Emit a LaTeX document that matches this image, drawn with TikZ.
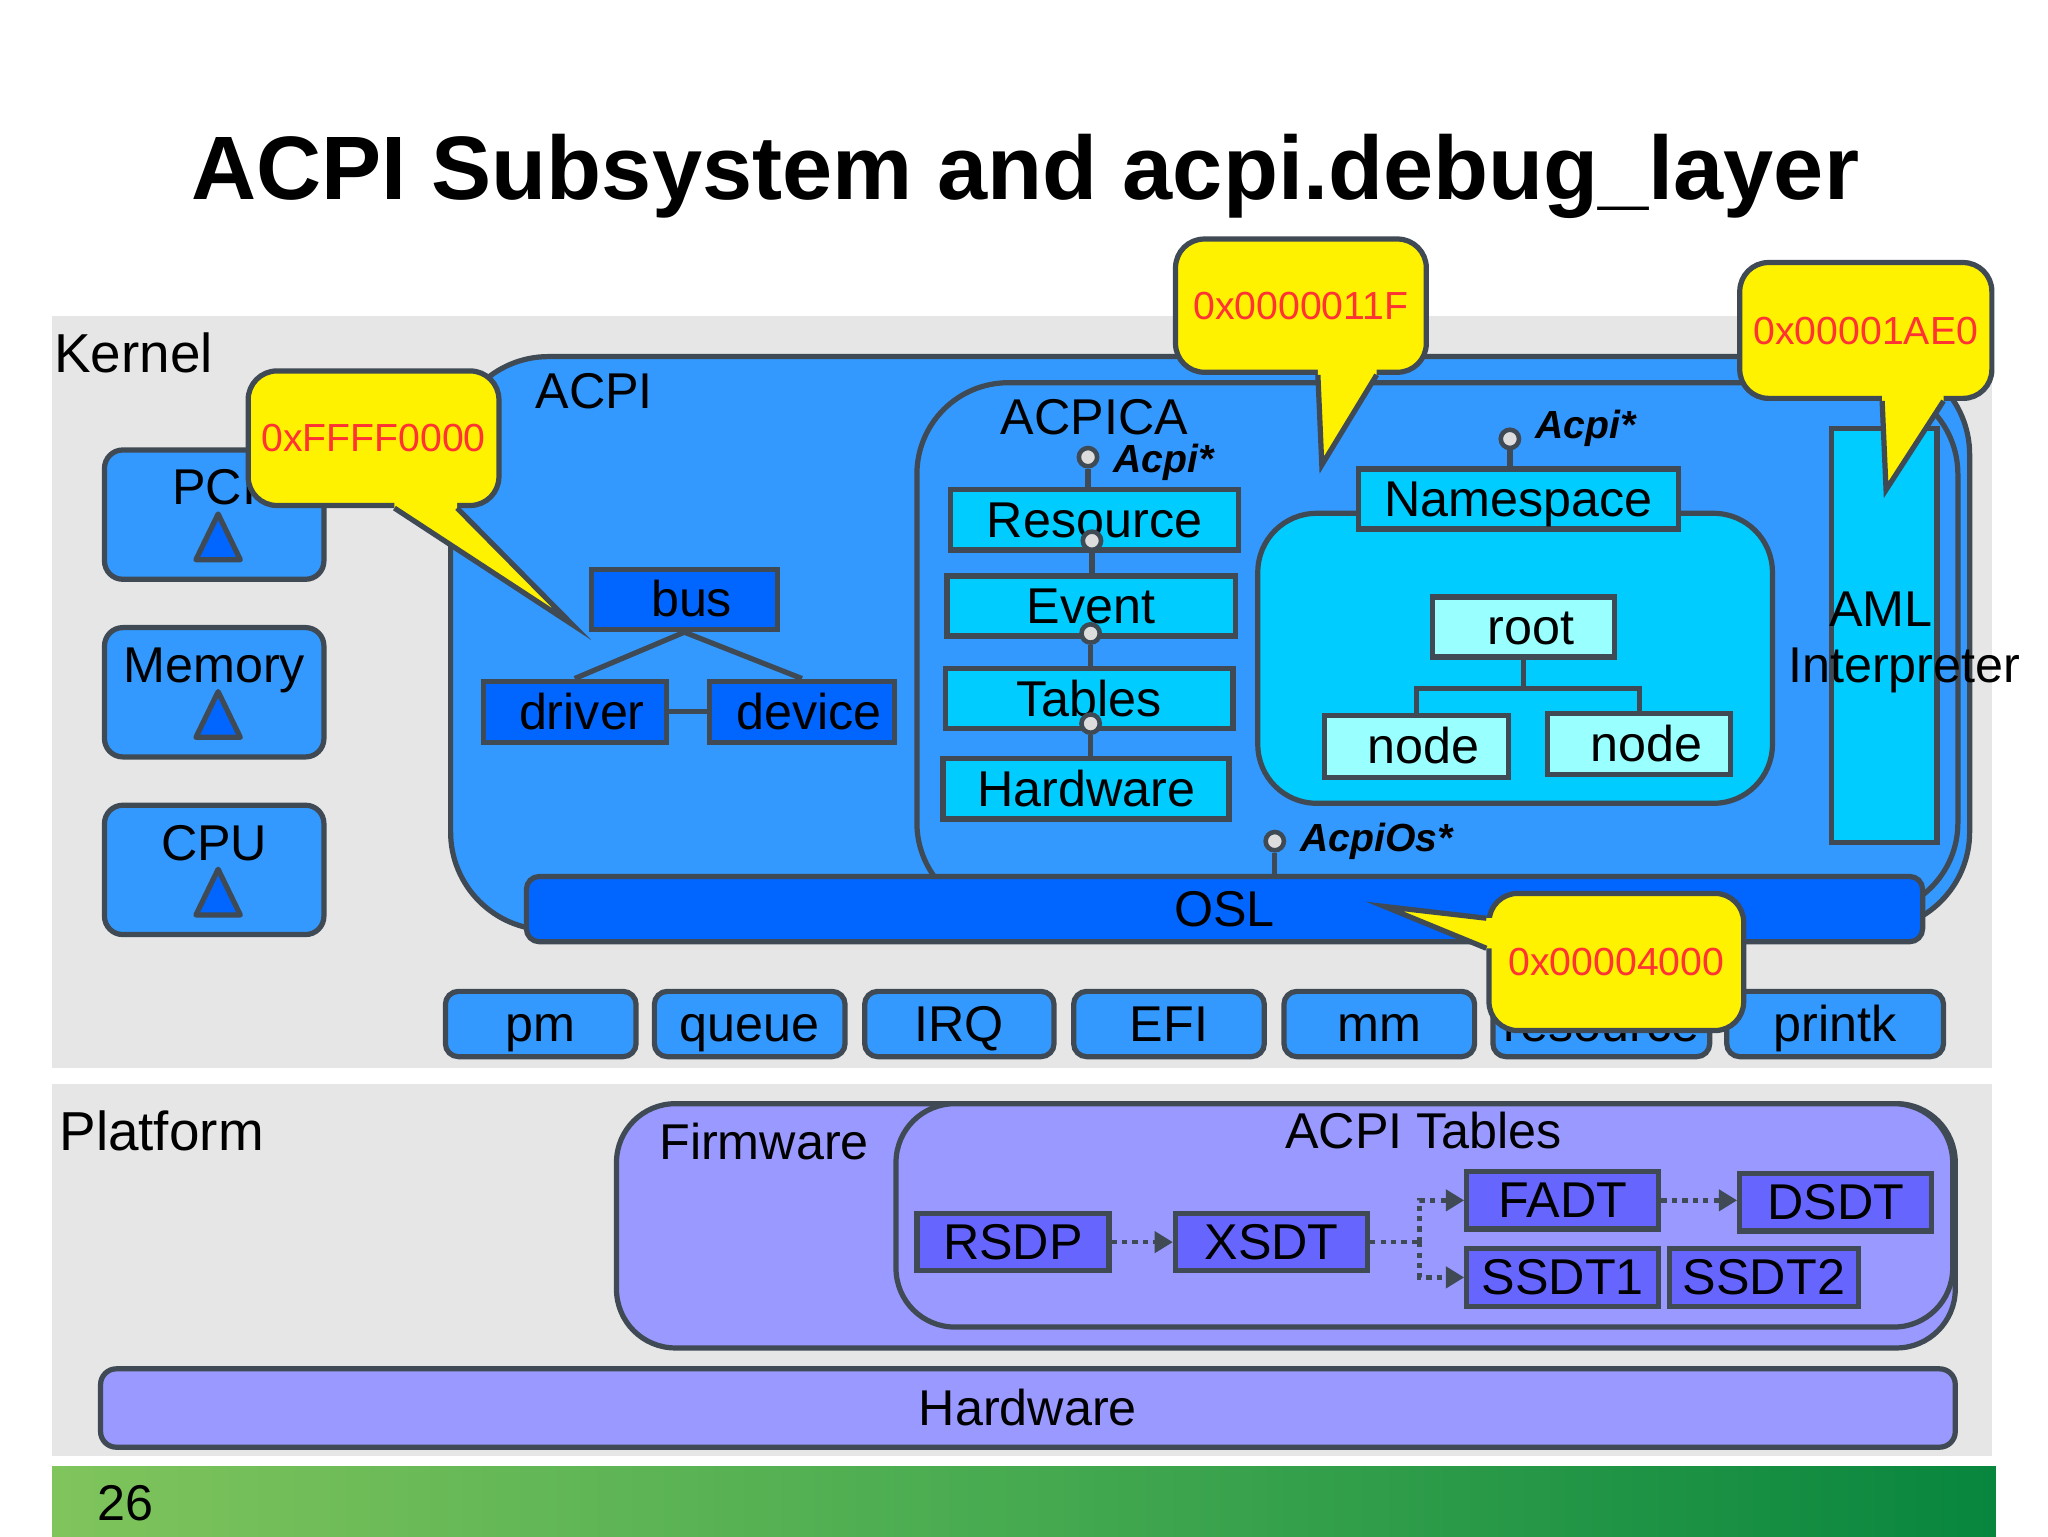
\documentclass[tikz,border=0pt]{standalone}
\usepackage{fontspec}
\setmainfont{Liberation Sans}
\usetikzlibrary{positioning,arrows.meta,calc}
\definecolor{edgegray}{RGB}{64,74,84}
\definecolor{panelgray}{RGB}{230,230,230}
\definecolor{midblue}{RGB}{51,153,255}
\definecolor{deepblue}{RGB}{0,102,255}
\definecolor{acyan}{RGB}{0,204,255}
\definecolor{palecyan}{RGB}{153,255,255}
\definecolor{lavender}{RGB}{153,153,255}
\definecolor{violetbox}{RGB}{102,102,255}
\definecolor{hexred}{RGB}{255,51,51}
\definecolor{barlight}{RGB}{128,196,92}
\definecolor{barmid}{RGB}{70,170,80}
\definecolor{bardark}{RGB}{8,134,62}
\definecolor{dotgray}{RGB}{221,221,221}
\newcommand\titlefont{\fontsize{69}{72}\selectfont\bfseries}
\newcommand\secfont{\fontsize{42}{46}\selectfont}
\newcommand\bodyfont{\fontsize{38.5}{43}\selectfont}
\newcommand\hexfont{\fontsize{30}{34}\selectfont}
\newcommand\apifont{\fontsize{30}{34}\selectfont\bfseries\itshape}
\tikzset{
        outline/.style={draw=edgegray, line width=4pt}, % dark rim of every shape
        txtbox/.style={outline, font=\bodyfont, inner sep=0pt, text height=34.8pt, text depth=8.2pt},
        padl/.style={execute at begin node={\hspace*{11pt}}}, % text sits a bit right of centre
        hwbox/.style={outline, fill=midblue, rounded corners=14pt, minimum width=168pt, minimum height=99pt},
        kbox/.style={txtbox, fill=midblue, rounded corners=10pt, minimum height=50pt}, % kernel services
        dbox/.style={txtbox, fill=deepblue}, % bus, driver, device, OSL
        cbox/.style={txtbox, fill=acyan, minimum height=46pt}, % ACPICA parts
        nbox/.style={txtbox, padl, fill=palecyan, minimum height=47pt}, % namespace tree
        tbox/.style={txtbox, fill=violetbox, minimum width=147pt, minimum height=44pt}, % ACPI tables
        link/.style={draw=edgegray, line width=4pt},
        lolly/.style={circle, draw=edgegray, line width=3.5pt, fill=dotgray, minimum size=14pt, inner sep=0pt},
        apitxt/.style={font=\apifont, anchor=base west},
        bubble/.style={outline, fill=yellow, rounded corners=22pt, font=\hexfont, text=hexred, inner sep=0pt, text height=27.2pt, text depth=6.4pt},
        tailline/.style={outline, line join=miter},
        dotline/.style={draw=edgegray, line width=3.5pt, dash pattern=on 4pt off 4pt},
        dotarrow/.style={dotline, -{Triangle[length=14pt,width=16pt]}},
}

\begin{document}
\begin{tikzpicture}[x=1pt,y=-1pt]
\useasboundingbox (0,0) rectangle (1568,1176);
\fill[white] (0,0) rectangle (1568,1176);
\fill[panelgray] (40,242) rectangle (1525,818);
\fill[panelgray] (40,830) rectangle (1525,1115);
\shade[left color=barlight, right color=bardark, middle color=barmid] (40,1123) rectangle (1528,1176);

\node[font=\titlefont, anchor=base] (title) at (785,153) {ACPI Subsystem and acpi.debug\_layer};
\node[font=\secfont, anchor=base west] (kernel) at (38,285) {Kernel};
\node[font=\secfont, anchor=base west] (platform) at (42,881) {Platform};
\node[font=\bodyfont, anchor=base] (pagenum) at (96,1164) {26};

% kernel blocks on the left
\foreach \nm/\cy in {PCI/394,Memory/530,CPU/666}{
  \node[hwbox] (\nm) at (164,\cy) {};
  \node[font=\bodyfont, anchor=base] (\nm-txt) at ([yshift=-44pt]\nm.north) {\nm};
  \draw[outline, fill=deepblue, line join=round] ([xshift=3pt,yshift=-51pt]\nm.north) -- ++(-17,35) -- ++(34,0) -- cycle;
}

% ACPI and ACPICA
\draw[outline, fill=midblue, rounded corners=75pt] (345,273) rectangle (1508,712);
\node[font=\bodyfont, anchor=base] (acpitxt) at (455,313) {ACPI};
\draw[outline, fill=midblue, rounded corners=70pt] (702,293) rectangle (1499,700);
\node[font=\bodyfont, anchor=base] (acpicatxt) at (838,333) {ACPICA};

\node[dbox, padl, minimum width=142pt, minimum height=46pt] (bus) at (524,459) {bus};
\node[dbox, padl, minimum width=140pt, minimum height=47pt] (driver) at (440,545) {driver};
\node[dbox, padl, minimum width=142pt, minimum height=47pt] (device) at (614,545) {device};
\draw[link] (bus.south) -- (driver.north);
\draw[link] (bus.south) -- (device.north);
\draw[link] (driver.east) -- (device.west);

\node[cbox, minimum width=220pt] (resnode) at (838,398) {Resource};
\node[cbox, minimum width=221pt] (evnode) at (835.5,464) {Event};
\node[cbox, minimum width=220pt] (tabnode) at (834,535) {Tables};
\node[cbox, minimum width=219pt] (hwlnode) at (831.5,604) {Hardware};
\node[lolly] (dacpi) at (833,350) {};
\draw[link] (dacpi.south) -- (dacpi.south |- resnode.north);
\node[apitxt] (acpiapi) at (849,362) {Acpi*};
\node[lolly] (dres) at (836,414) {};
\draw[link] (dres.south) -- (dres.south |- evnode.north);
\node[lolly] (devt) at (835,485) {};
\draw[link] (devt.south) -- (devt.south |- tabnode.north);
\node[lolly] (dtab) at (835,554) {};
\draw[link] (dtab.south) -- (dtab.south |- hwlnode.north);

% namespace
\draw[outline, fill=acyan, rounded corners=45pt] (963,393) rectangle (1357,615);
\node[cbox, minimum width=245pt] (namespace) at (1162.5,382) {Namespace};
\node[lolly] (dns) at (1156,336) {};
\draw[link] (dns.south) -- (dns.south |- namespace.north);
\node[apitxt] (nsapi) at (1172,336) {Acpi*};
\node[nbox, minimum width=139pt, minimum height=46pt] (root) at (1166.5,480) {root};
\node[nbox, minimum width=141pt] (nodea) at (1084.5,571.5) {node};
\node[nbox, minimum width=140pt] (nodeb) at (1255,569.5) {node};
\draw[link] (root.south) -- ++(0,22) -| (nodea.north);
\draw[link] (root.south) -- ++(0,22) -| (nodeb.north);

\node[outline, fill=acyan, minimum width=81pt, minimum height=317pt] (aml) at (1442.5,486.5) {};
\node[font=\bodyfont, align=center] (amltxt) at (1458,492) {AML\hspace*{36pt}\\Interpreter};

% OSL and kernel services
\node[dbox, rounded corners=10pt, minimum width=1069pt, minimum height=50pt] (osl) at (937.5,696) {OSL};
\node[lolly] (dos) at (976,644) {};
\draw[link] (dos.south) -- (dos.south |- osl.north);
\node[apitxt] (osapi) at (992,652) {AcpiOs*};
\foreach \nm/\cx/\w in {pm/414/146,queue/574/146,IRQ/734.5/145,EFI/895/146,mm/1056/146,resource/1226/166,printk/1405/166}
  \node[kbox, minimum width=\w pt] (\nm) at (\cx,784) {\nm};

% platform
\draw[outline, fill=lavender, rounded corners=45pt] (472,845) rectangle (1497,1032);
\node[font=\bodyfont, anchor=base] (fwtxt) at (585,888) {Firmware};
\draw[outline, fill=lavender, rounded corners=45pt] (686,845) rectangle (1495,1016);
\node[font=\bodyfont, anchor=base] (tbltxt) at (1090,879) {ACPI Tables};
\node[tbox] (rsdp) at (775.5,951) {RSDP};
\node[tbox] (xsdt) at (973.5,951) {XSDT};
\node[tbox] (fadt) at (1196.5,919) {FADT};
\node[tbox] (dsdt) at (1405.5,920.5) {DSDT};
\node[tbox] (ssdtone) at (1196.5,978) {SSDT1};
\node[tbox, minimum width=145pt] (ssdttwo) at (1350.5,978) {SSDT2};
\draw[dotarrow] (rsdp.east) -- (xsdt.west);
\draw[dotline] (xsdt.east) -- ++(38,0) coordinate (split);
\draw[dotarrow] (split) |- (fadt.west);
\draw[dotarrow] (split) |- (ssdtone.west);
\draw[dotarrow] (fadt.east) -- (fadt.east -| dsdt.west);
\node[txtbox, fill=lavender, rounded corners=12pt, minimum width=1420pt, minimum height=60pt] (hwbar) at (787,1078) {Hardware};

% debug layer callouts
\node[bubble, minimum width=192pt, minimum height=103pt] (cpci) at (286,335.5) {0xFFFF0000};
\coordinate (tippci) at (438,478);
\fill[yellow] ([xshift=16pt,yshift=5pt]cpci.south) -- ([xshift=16pt]cpci.south) -- (tippci) -- ([xshift=64pt]cpci.south) -- ([xshift=64pt,yshift=5pt]cpci.south) -- cycle;
\draw[tailline] ([xshift=16pt]cpci.south) -- (tippci) -- ([xshift=64pt]cpci.south);

\node[bubble, minimum width=192pt, minimum height=102pt] (cacpica) at (996,234) {0x0000011F};
\coordinate (tipacpica) at (1012,356);
\fill[yellow] ([xshift=13pt,yshift=5pt]cacpica.south) -- ([xshift=13pt]cacpica.south) -- (tipacpica) -- ([xshift=58pt]cacpica.south) -- ([xshift=58pt,yshift=5pt]cacpica.south) -- cycle;
\draw[tailline] ([xshift=13pt]cacpica.south) -- (tipacpica) -- ([xshift=58pt]cacpica.south);

\node[bubble, minimum width=193pt, minimum height=104pt] (caml) at (1428.5,253) {0x00001AE0};
\coordinate (tipaml) at (1444,375);
\fill[yellow] ([xshift=12.5pt,yshift=5pt]caml.south) -- ([xshift=12.5pt]caml.south) -- (tipaml) -- ([xshift=59.5pt]caml.south) -- ([xshift=59.5pt,yshift=5pt]caml.south) -- cycle;
\draw[tailline] ([xshift=12.5pt]caml.south) -- (tipaml) -- ([xshift=59.5pt]caml.south);

\node[bubble, minimum width=195pt, minimum height=105pt] (cosl) at (1237.5,736.5) {0x00004000};
\coordinate (tiposl) at (1060,694);
\fill[yellow] ([xshift=5pt,yshift=33.5pt]cosl.west) -- ([yshift=33.5pt]cosl.west) -- (tiposl) -- ([yshift=10.5pt]cosl.west) -- ([xshift=5pt,yshift=10.5pt]cosl.west) -- cycle;
\draw[tailline] ([yshift=33.5pt]cosl.west) -- (tiposl) -- ([yshift=10.5pt]cosl.west);
\end{tikzpicture}
\end{document}
